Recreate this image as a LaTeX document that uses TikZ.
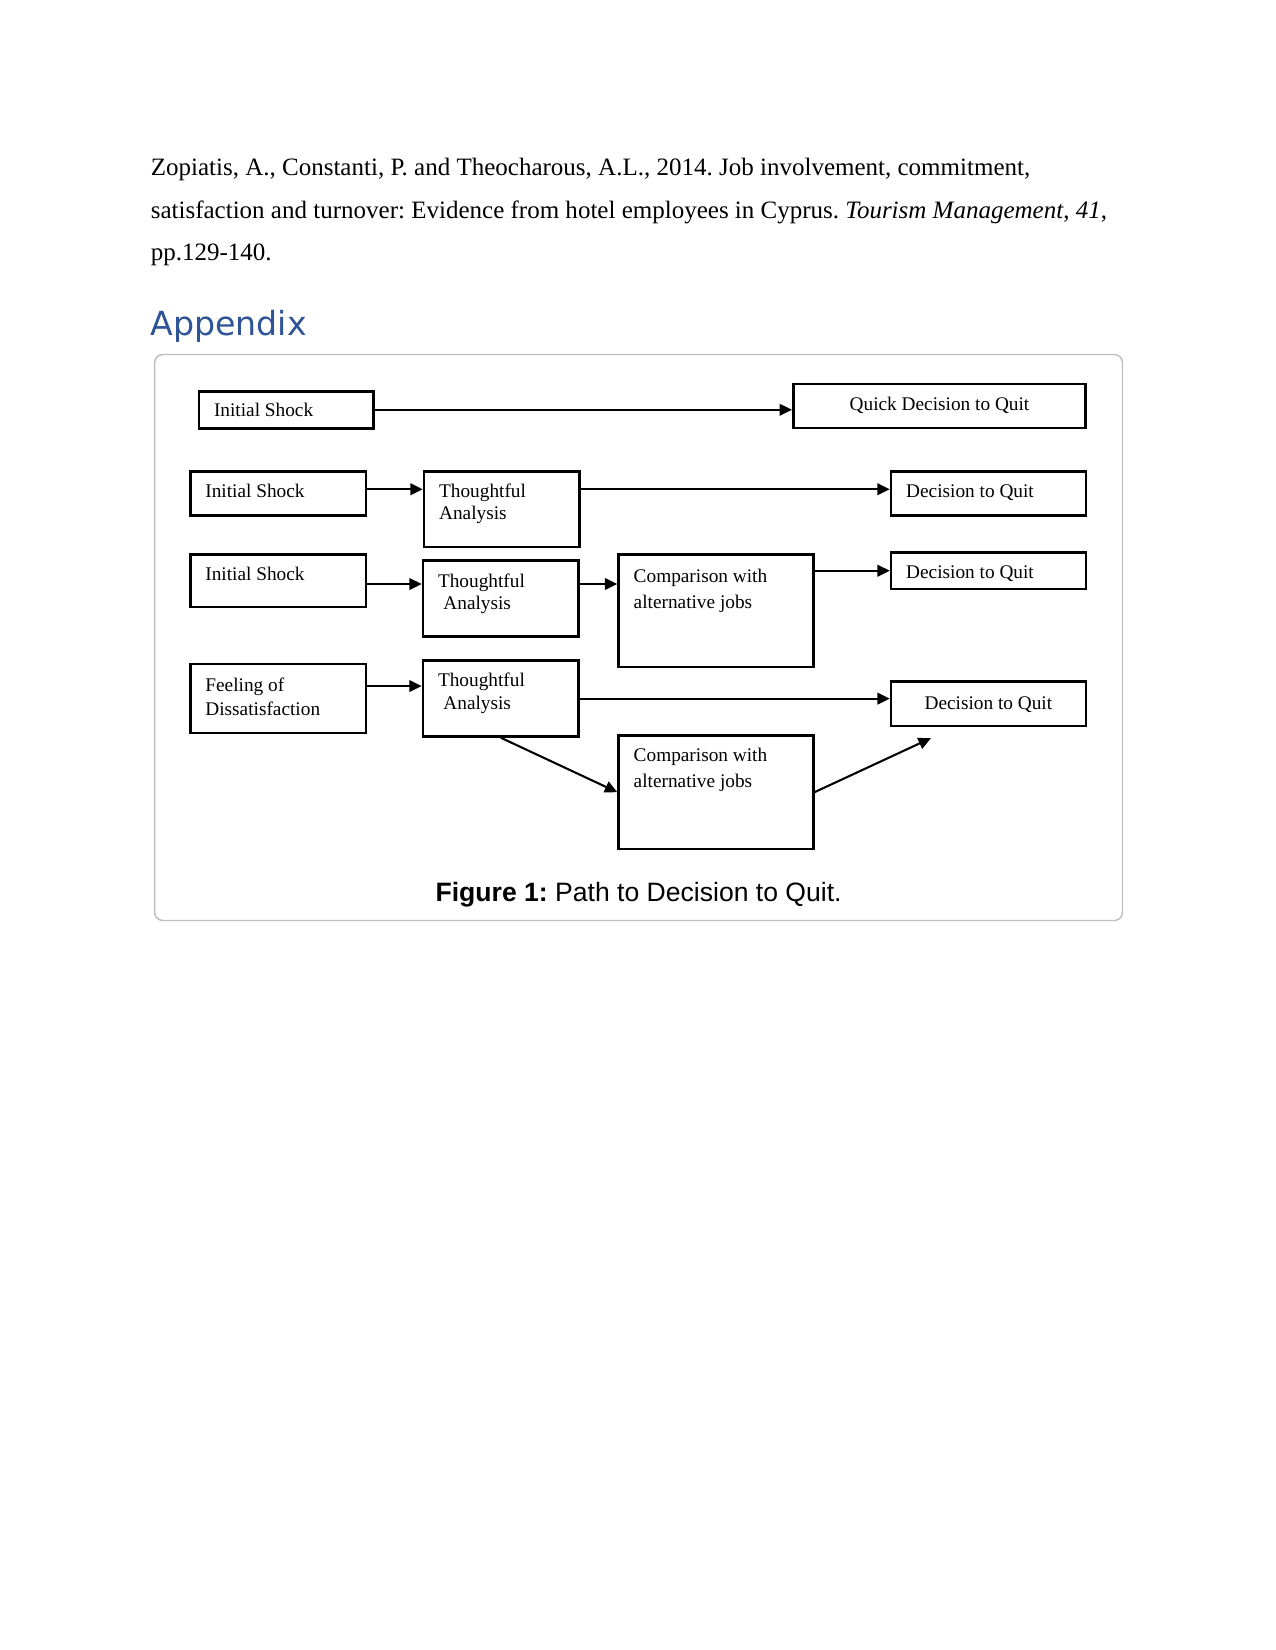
\documentclass[tikz,border=0pt]{standalone}
\usepackage{fontspec}
\setmainfont{Liberation Serif}
\newfontfamily\captionfont{Liberation Sans}
\newfontfamily\headfont{DejaVu Sans}
\usetikzlibrary{arrows.meta,calc}
\definecolor{Ink}{HTML}{000000}
\definecolor{HeadBlue}{HTML}{2F5496}
\definecolor{FrameGray}{HTML}{BDBDBD}
\frenchspacing
\tikzset{
  citeText/.style={font=\fontsize{12.05}{14}\selectfont,inner sep=0pt,anchor=base west},
  headText/.style={font=\headfont\fontsize{16}{18}\selectfont,text=HeadBlue,inner sep=0pt,anchor=base west},
  figFrame/.style={draw=FrameGray,line width=0.7pt,rounded corners=4pt},
  pathBox/.style={rectangle,draw=Ink,line width=1.2pt,inner sep=0pt},
  boxText/.style={font=\fontsize{9.3}{10.6}\selectfont,align=left,inner sep=0pt,anchor=base west},
  boxTextC/.style={boxText,anchor=base},
  flow/.style={-{Triangle[length=6pt,width=5.6pt]},draw=Ink,line width=1pt},
  capText/.style={font=\captionfont\fontsize{12.8}{15}\selectfont,inner sep=0pt,anchor=base}
}
\begin{document}
\begin{tikzpicture}[x=0.4818pt,y=-0.4818pt]
  \useasboundingbox (0,0) rectangle (1275,1650);
  % reference text above the figure
  \node[citeText] (cite1) at (150.4,175.5) {Zopiatis, A., Constanti, P. and Theocharous, A.L., 2014. Job involvement, commitment,};
  \node[citeText] (cite2) at (150.4,218.5) {satisfaction and turnover: Evidence from hotel employees in Cyprus. \textit{Tourism Management}, \textit{41},};
  \node[citeText] (cite3) at (150.4,260.5) {pp.129-140.};
  \node[headText] (appx) at (150,336) {Appendix};
  \draw[figFrame] (154.6,354.5) rectangle (1122.5,920.5);
  % row 1
  \node[pathBox,minimum width=84.2pt,minimum height=17.8pt] (a1) at (286.2,409.8) {};
  \node[pathBox,minimum width=140.9pt,minimum height=21.3pt] (a2) at (939.5,406.1) {};
  \node[boxText] (a1t) at (213.6,417) {Initial Shock};
  \node[boxTextC] (a2t) at (939.5,411) {Quick Decision to Quit};
  % row 2
  \node[pathBox,minimum width=84.7pt,minimum height=21.3pt] (b1) at (278.3,493.4) {};
  \node[pathBox,minimum width=75pt,minimum height=36.5pt] (b2) at (501.9,509.2) {};
  \node[pathBox,minimum width=93.8pt,minimum height=21.3pt] (b3) at (988.4,493.4) {};
  \node[boxText] (b1t) at (205,497.5) {Initial Shock};
  \node[boxText] (b2t) at (438.7,519.5) {Thoughtful\\Analysis};
  \node[boxText] (b3t) at (905.8,497.5) {Decision to Quit};
  % row 3
  \node[pathBox,minimum width=84.7pt,minimum height=25.3pt] (c1) at (278.3,580.7) {};
  \node[pathBox,minimum width=75pt,minimum height=36.5pt] (c2) at (500.8,598.6) {};
  \node[pathBox,minimum width=93.8pt,minimum height=54.3pt] (c3) at (715.9,610.7) {};
  \node[pathBox,minimum width=93.8pt,minimum height=17.7pt] (c4) at (988.4,570.7) {};
  \node[boxText] (c1t) at (205,580.5) {Initial Shock};
  \node[boxText] (c2t) at (437.6,609.5) {Thoughtful\\\hspace*{2.6pt}Analysis};
  \node[boxText] (c3t) at (633.3,608.5) {Comparison with\\[1.7pt]alternative jobs};
  \node[boxText] (c4t) at (905.8,578.5) {Decision to Quit};
  % row 4
  \node[pathBox,minimum width=84.7pt,minimum height=33.4pt] (d1) at (278.3,698.5) {};
  \node[pathBox,minimum width=75pt,minimum height=36.5pt] (d2) at (500.8,698.6) {};
  \node[pathBox,minimum width=93.8pt,minimum height=21.3pt] (d3) at (988.4,703.8) {};
  \node[pathBox,minimum width=93.8pt,minimum height=54.8pt] (d4) at (715.9,792.2) {};
  \node[boxText] (d1t) at (205,715.5) {Feeling of\\[1pt]Dissatisfaction};
  \node[boxText] (d2t) at (437.6,709.5) {Thoughtful\\[0.5pt]\hspace*{2.6pt}Analysis};
  \node[boxTextC] (d3t) at (988.4,709.5) {Decision to Quit};
  \node[boxText] (d4t) at (633.3,787.5) {Comparison with\\[1.9pt]alternative jobs};
  \coordinate (d3in) at ([xshift=19.8pt,yshift=-5.3pt]d3.south west);
  % connectors
  \draw[flow] (a1.east) -- (a1.east -| a2.west);
  \draw[flow] ([yshift=2pt]b1.east) -- ([yshift=2pt]b1.east -| b2.west);
  \draw[flow] ([yshift=2pt]b3.west -| b2.east) -- ([yshift=2pt]b3.west);
  \draw[flow] ([yshift=-1.6pt]c1.east) -- ([yshift=-1.6pt]c1.east -| c2.west);
  \draw[flow] ([yshift=-1.6pt]c1.east -| c2.east) -- ([yshift=-1.6pt]c1.east -| c3.west);
  \draw[flow] (c4.west -| c3.east) -- (c4.west);
  \draw[flow] ([yshift=6pt]d1.east) -- ([yshift=6pt]d1.east -| d2.west);
  \draw[flow] (d2.east) -- (d2.east -| d3.west);
  \draw[flow] (d2.south) -- (d4.west);
  \draw[flow] (d4.east) -- (d3in);
  \node[capText] (cap) at (638.6,901) {\textbf{Figure 1:} Path to Decision to Quit.};
\end{tikzpicture}
\end{document}
